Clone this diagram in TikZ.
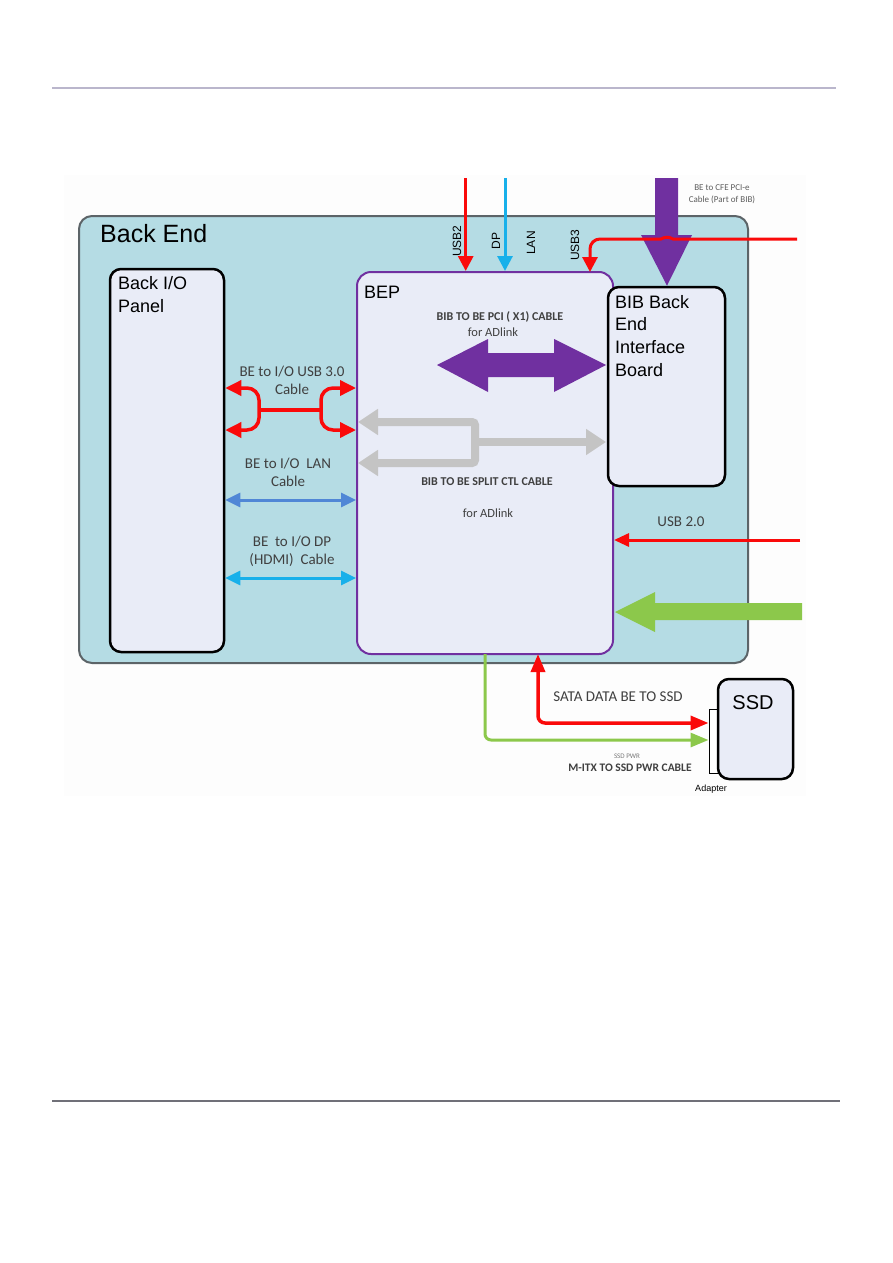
\documentclass[tikz,border=0pt]{standalone}
\usepackage{fontspec}
\setmainfont{Liberation Sans}
\newfontfamily\calfont{Carlito}
\usetikzlibrary{arrows.meta}
\definecolor{bgblue}{RGB}{181,220,228}
\definecolor{boxfill}{RGB}{233,236,247}
\definecolor{bepurple}{RGB}{112,48,160}
\definecolor{cred}{RGB}{250,10,10}
\definecolor{ccyan}{RGB}{24,176,234}
\definecolor{cblue}{RGB}{80,135,214}
\definecolor{cgreen}{RGB}{140,200,75}
\definecolor{cgray}{RGB}{196,196,196}
\definecolor{txtgray}{RGB}{64,64,64}
\definecolor{edgegray}{RGB}{92,100,104}
\definecolor{ruletop}{RGB}{186,182,204}
\definecolor{rulebot}{RGB}{112,112,120}
\definecolor{figbg}{RGB}{253,253,253}
\tikzset{
  blackbox/.style={draw=black, line width=2.5pt, fill=boxfill, rounded corners=11pt, inner sep=0pt},
  lbl/.style={inner sep=0pt, text=txtgray, font=\calfont\fontsize{15}{18}\selectfont, align=center},
  blbl/.style={inner sep=0pt, text=txtgray, font=\calfont\bfseries\fontsize{12}{14}\selectfont, align=center},
  arlbl/.style={inner sep=0pt, font=\fontsize{18}{23}\selectfont, align=left},
  rot/.style={inner sep=0pt, rotate=90, font=\fontsize{12}{14}\selectfont},
  redarr/.style={draw=cred, line width=3pt, -{Triangle[length=15pt,width=15pt]}},
  thinarr/.style={line width=3pt, {Triangle[length=15pt,width=14pt]}-{Triangle[length=15pt,width=14pt]}},
}
\begin{document}
\begin{tikzpicture}[x=1pt,y=-1pt]
\useasboundingbox (0,0) rectangle (893,1263);
% faint figure background
\fill[figbg] (64,175) rectangle (806,796);
% page rules
\coordinate (rt1) at (52,88); \coordinate (rt2) at (836,88);
\coordinate (rb1) at (52,1101); \coordinate (rb2) at (840,1101);
\draw[ruletop, line width=2pt] (rt1) -- (rt2);
\draw[rulebot, line width=1.5pt] (rb1) -- (rb2);

% main boxes
\node (be) [draw=edgegray, line width=2pt, fill=bgblue, rounded corners=13pt, minimum width=669pt, minimum height=447pt, inner sep=0pt] at (413.5,439.5) {};
\node (io) [blackbox, minimum width=114pt, minimum height=383pt] at (167,460.5) {};
\node (bep) [draw=bepurple, line width=2pt, fill=boxfill, rounded corners=14pt, minimum width=256pt, minimum height=382pt, inner sep=0pt] at (485,463) {};
\node (bib) [blackbox, minimum width=117pt, minimum height=199pt] at (666.5,386.5) {};
\node (adp) [draw=black, line width=1pt, fill=white, minimum width=10pt, minimum height=64pt, inner sep=0pt] at (714,741) {};
\node (ssd) [blackbox, minimum width=75pt, minimum height=100pt] at (755.5,729) {};

% box titles
\node (tbe) [inner sep=0pt, anchor=west, font=\fontsize{25}{30}\selectfont] at (100,234) {Back End};
\node (tio) [arlbl, anchor=north west] at (118,276) {Back I/O\\Panel};
\node (tbep) [arlbl, anchor=west] at (364,292) {BEP};
\node (tbib) [arlbl, anchor=north west, font=\fontsize{18}{22.7}\selectfont] at (615,295) {BIB Back\\End\\Interface\\Board};
\node (tssd) [inner sep=0pt, font=\fontsize{20}{24}\selectfont] at (753,703) {SSD};
\node (tadp) [inner sep=0pt, font=\fontsize{9}{11}\selectfont] at (711,789) {Adapter};

% top incoming lines
\coordinate (u2s) at (465.7,178);
\coordinate (dps) at (505,178);
\draw[redarr] (u2s) -- (u2s |- bep.north);
\draw[draw=ccyan, line width=3pt, -{Triangle[length=15pt,width=15pt]}] (dps) -- (dps |- bep.north);
\node (lusb2) [rot] at (457,241) {USB2};
\node (ldp) [rot] at (496,241) {DP};
\node (llan) [rot] at (531,243) {LAN};
\node (lusb3) [rot] at (575,245) {USB3};

% purple down arrow into BIB
\fill[bepurple] (655,178) -- (678,178) -- (678,235) -- (692,235) -- (bib.north -| 667,0) -- (641,235) -- (655,235) -- cycle;
\node (lcfe) [inner sep=0pt, text=txtgray!85, font=\calfont\fontsize{9}{12}\selectfont, align=center] at (722,194.5) {BE to CFE PCI-e\\Cable (Part of BIB)};

% USB3 red line with hop
\coordinate (u3s) at (797,239);
\draw[draw=cred, line width=3pt, -{Triangle[length=15pt,width=15pt]}]
  (u3s) -- (673,239) to[out=150,in=30] (661,239) -- (600,239) to[out=180,in=90] (590,249) -- (590,272);

% purple double arrow
\fill[bepurple] (437,365) -- (488,339) -- (488,353) -- (554,353) -- (554,339) -- (606,365)
  -- (554,392) -- (554,377) -- (488,377) -- (488,392) -- cycle;
\node (lpci) [blbl] at (500,317) {BIB TO BE PCI ( X1) CABLE};
\node (lpci2) [lbl, font=\calfont\fontsize{12.5}{14}\selectfont] at (493,332) {for ADlink};

% gray split arrows
\coordinate (g1) at (358,422);
\coordinate (g2) at (358,463);
\coordinate (g3) at (606,442);
\draw[cgray, line width=8pt, rounded corners=3pt, {Triangle[length=20pt,width=25pt]}-{Triangle[length=20pt,width=25pt]}]
  (g1) -- (475,422) -- (475,463) -- (g2);
\draw[cgray, line width=8pt, -{Triangle[length=20pt,width=25pt]}] (475,442) -- (g3);
\node (lsplit) [blbl] at (487,482) {BIB TO BE SPLIT CTL CABLE};
\node (lsplit2) [lbl, font=\calfont\fontsize{12.5}{14}\selectfont] at (488,513) {for ADlink};

% USB3.0 splitter
\coordinate (sl1) at (io.east |- 0,388);
\coordinate (sl2) at (io.east |- 0,430);
\coordinate (sr1) at (bep.west |- 0,388);
\coordinate (sr2) at (bep.west |- 0,430);
\draw[draw=cred, line width=3.5pt, {Triangle[length=16pt,width=15pt]}-{Triangle[length=16pt,width=15pt]}]
  (sl1) -- (247,388) to[out=0,in=90] (259,400) -- (259,418) to[out=-90,in=0] (247,430) -- (sl2);
\draw[draw=cred, line width=3.5pt, {Triangle[length=16pt,width=15pt]}-{Triangle[length=16pt,width=15pt]}]
  (sr1) -- (333,388) to[out=180,in=90] (321,400) -- (321,418) to[out=-90,in=180] (333,430) -- (sr2);
\draw[draw=cred, line width=3.5pt] (259,410) -- (321,410);
\node (lusb30) [lbl] at (292,380.5) {BE to I/O USB 3.0\\Cable};

% LAN and DP cables
\draw[thinarr, draw=cblue] (io.east |- 0,500) -- (bep.west |- 0,500);
\node (llanc) [lbl] at (288,472.5) {BE to I/O\ \ LAN\\Cable};
\draw[thinarr, draw=ccyan] (io.east |- 0,578) -- (bep.west |- 0,578);
\node (ldpc) [lbl] at (292,551) {BE\ \ to I/O DP\\(HDMI)\ \ Cable};

% right side inputs
\coordinate (u20s) at (800,540);
\draw[draw=cred, line width=3pt, -{Triangle[length=15pt,width=13pt]}] (u20s) -- (u20s -| bep.east);
\node (lusb20) [lbl] at (681,522) {USB 2.0};
\fill[cgreen] (802,603) -- (655,603) -- (655,592) -- (615,612) -- (655,632) -- (655,620) -- (802,620) -- cycle;

% SSD connections
\coordinate (gs) at (485,654);
\draw[draw=cgreen, line width=3pt, rounded corners=6pt, -{Triangle[length=18pt,width=14pt]}]
  (gs) -- (485,740) -- (adp.west |- 0,740);
\coordinate (rs) at (538,654);
\draw[draw=cred, line width=3.5pt, rounded corners=7pt, {Triangle[length=18pt,width=14pt]}-{Triangle[length=18pt,width=14pt]}]
  (rs) -- (538,723) -- (adp.west |- 0,723);
\node (lsata) [lbl] at (618,697) {SATA DATA BE TO SSD};
\node (lpwr) [inner sep=0pt, text=txtgray!70, font=\calfont\fontsize{7}{8}\selectfont] at (627,756) {SSD PWR};
\node (lmitx) [blbl, font=\calfont\bfseries\fontsize{11.5}{14}\selectfont] at (630,768) {M-ITX TO SSD PWR CABLE};
\end{tikzpicture}
\end{document}
